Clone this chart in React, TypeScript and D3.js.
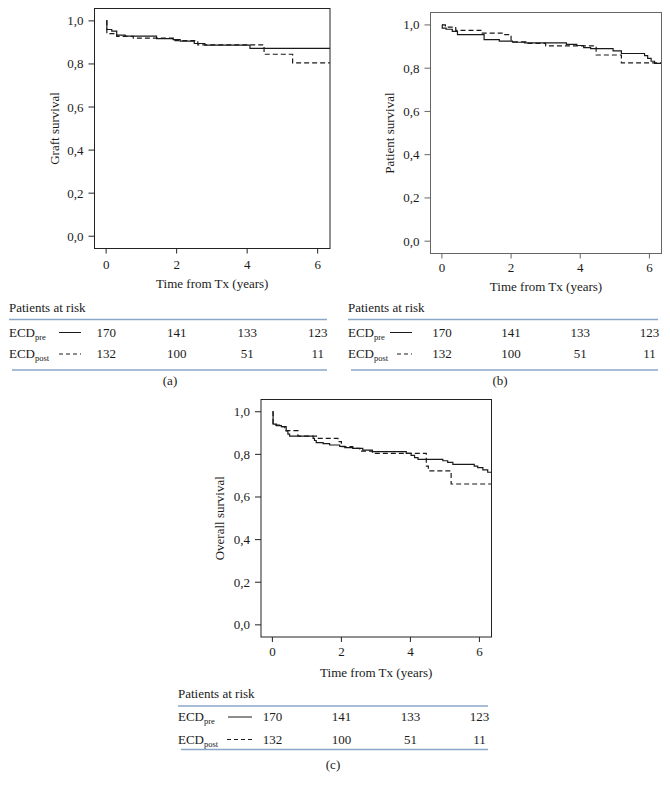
import React from "react";
import * as d3 from "d3";

// ---------- data ----------
const xTicks = [0, 2, 4, 6];
const yTicks = [0, 0.2, 0.4, 0.6, 0.8, 1.0];
const yTickLabels = ["0,0", "0,2", "0,4", "0,6", "0,8", "1,0"];

const riskTimes = [0, 2, 4, 6];
const riskPre = [170, 141, 133, 123];
const riskPost = [132, 100, 51, 11];

// (a) Graft survival
const graftPreT = [0, 0.02, 0.16, 0.3, 0.54, 1.43, 1.9, 2.1, 2.5, 2.8, 4.08];
const graftPreS = [1.0, 0.96, 0.952, 0.934, 0.929, 0.918, 0.913, 0.906, 0.895, 0.887, 0.872];
const graftPostT = [0, 0.02, 0.3, 0.77, 1.95, 2.6, 4.48, 5.29];
const graftPostS = [1.0, 0.941, 0.928, 0.92, 0.908, 0.889, 0.845, 0.805];

// (b) Patient survival
const patPreT = [0, 0.01, 0.12, 0.3, 0.45, 1.22, 1.66, 2.04, 2.39, 3.6, 3.9, 4.1, 4.3, 4.95, 5.19, 5.86, 5.95, 6.05, 6.15];
const patPreS = [1.0, 0.985, 0.98, 0.97, 0.955, 0.932, 0.925, 0.92, 0.917, 0.91, 0.905, 0.895, 0.89, 0.88, 0.868, 0.858, 0.845, 0.832, 0.822];
const patPostT = [0, 0.1, 0.4, 1.13, 1.76, 2.0, 2.43, 3.0, 4.46, 5.19];
const patPostS = [1.0, 0.99, 0.975, 0.962, 0.955, 0.922, 0.915, 0.903, 0.861, 0.825];

// (c) Overall survival
const ovPreT = [0, 0.02, 0.12, 0.26, 0.4, 0.45, 0.5, 1.18, 1.22, 1.27, 1.47, 1.66, 1.95, 2.1, 2.33, 2.62, 2.9, 3.88, 4.02, 4.12, 4.22, 4.94, 5.08, 5.23, 5.85, 5.95, 6.1, 6.24];
const ovPreS = [1.0, 0.942, 0.935, 0.93, 0.91, 0.895, 0.886, 0.875, 0.865, 0.855, 0.85, 0.844, 0.838, 0.832, 0.828, 0.82, 0.8125, 0.805, 0.795, 0.785, 0.777, 0.77, 0.762, 0.753, 0.745, 0.738, 0.727, 0.716];
const ovPostT = [0, 0.02, 0.21, 0.36, 0.74, 1.3, 1.9, 2.0, 2.33, 2.53, 2.9, 4.46, 4.52, 5.18];
const ovPostS = [1.0, 0.9375, 0.93, 0.911, 0.886, 0.875, 0.86, 0.836, 0.828, 0.815, 0.805, 0.745, 0.723, 0.661];

// ---------- drawing ----------
const FONT = "'Liberation Serif', 'DejaVu Serif', serif";
const INK = "#1a1a1a";
const BLUE = "#8aa6c8";
const X_DOMAIN: [number, number] = [-0.33, 6.35];
const Y_DOMAIN: [number, number] = [-0.057, 1.0575];

type Layout = {
  id: string;
  l: number; t: number; r: number; b: number;
  frame: string;
  ylabel: string;
  ylabelX: number;
  xTickY: number;
  xTitleY: number;
  tblL: number; tblR: number;
  parY: number; topLineY: number; row1Y: number; row2Y: number; botLineY: number;
  leg1X1: number; leg2X1: number; legX2: number;
  tag: string; tagX: number; tagY: number;
};

function Panel({ L, preT, preS, postT, postS }: { L: Layout; preT: number[]; preS: number[]; postT: number[]; postS: number[] }) {
  const x = d3.scaleLinear().domain(X_DOMAIN).range([L.l, L.r]);
  const y = d3.scaleLinear().domain(Y_DOMAIN).range([L.b, L.t]);
  const line = d3
    .line<[number, number]>()
    .x((d) => x(d[0]))
    .y((d) => y(d[1]))
    .curve(d3.curveStepAfter);
  const pts = (T: number[], S: number[]): [number, number][] => {
    const p: [number, number][] = T.map((t, i) => [t, S[i]]);
    p.push([X_DOMAIN[1], S[S.length - 1]]);
    return p;
  };
  const clipId = "clip-" + L.id;
  const fs = 13;
  const sub = 8.5;
  return (
    <g fontFamily={FONT} fill={INK}>
      <defs>
        <clipPath id={clipId}>
          <rect x={L.l} y={L.t} width={L.r - L.l} height={L.b - L.t} />
        </clipPath>
      </defs>
      <g clipPath={`url(#${clipId})`}>
        <path d={line(pts(preT, preS)) || ""} fill="none" stroke={INK} strokeWidth={1.2} />
        <path d={line(pts(postT, postS)) || ""} fill="none" stroke={INK} strokeWidth={1.2} strokeDasharray="5,3" />
      </g>
      <rect x={L.l} y={L.t} width={L.r - L.l} height={L.b - L.t} fill="none" stroke={L.frame} strokeWidth={1} />
      {yTicks.map((v, i) => (
        <g key={"y" + i}>
          <line x1={L.l - 6} x2={L.l} y1={y(v)} y2={y(v)} stroke={L.frame} />
          <text x={L.l - 11} y={y(v) + 4.5} textAnchor="end" fontSize={fs}>{yTickLabels[i]}</text>
        </g>
      ))}
      {xTicks.map((v) => (
        <g key={"x" + v}>
          <line x1={x(v)} x2={x(v)} y1={L.b} y2={L.b + 5} stroke={L.frame} />
          <text x={x(v)} y={L.xTickY} textAnchor="middle" fontSize={fs}>{v}</text>
        </g>
      ))}
      <text x={(L.l + L.r) / 2} y={L.xTitleY} textAnchor="middle" fontSize={fs}>Time from Tx (years)</text>
      <text
        transform={`translate(${L.ylabelX},${(L.t + L.b) / 2}) rotate(-90)`}
        textAnchor="middle"
        fontSize={fs}
      >
        {L.ylabel}
      </text>
      {/* risk table */}
      <text x={L.tblL} y={L.parY} fontSize={fs}>Patients at risk</text>
      <line x1={L.tblL} x2={L.tblR} y1={L.topLineY} y2={L.topLineY} stroke={BLUE} strokeWidth={1.5} />
      <text x={L.tblL} y={L.row1Y} fontSize={fs}>
        ECD<tspan fontSize={sub} dy={3}>pre</tspan>
      </text>
      <text x={L.tblL} y={L.row2Y} fontSize={fs}>
        ECD<tspan fontSize={sub} dy={3}>post</tspan>
      </text>
      <line x1={L.leg1X1} x2={L.legX2} y1={L.row1Y - 4} y2={L.row1Y - 4} stroke={INK} strokeWidth={1} />
      <line x1={L.leg2X1} x2={L.legX2} y1={L.row2Y - 4} y2={L.row2Y - 4} stroke={INK} strokeWidth={1} strokeDasharray="4,3" />
      {riskTimes.map((t, i) => (
        <g key={"r" + i}>
          <text x={x(t)} y={L.row1Y} textAnchor="middle" fontSize={fs}>{riskPre[i]}</text>
          <text x={x(t)} y={L.row2Y} textAnchor="middle" fontSize={fs}>{riskPost[i]}</text>
        </g>
      ))}
      <line x1={L.tblL + 3} x2={L.tblR} y1={L.botLineY} y2={L.botLineY} stroke={BLUE} strokeWidth={1.5} />
      <text x={L.tagX} y={L.tagY} textAnchor="middle" fontSize={fs}>{L.tag}</text>
    </g>
  );
}

const layoutA: Layout = {
  id: "a", l: 94.5, t: 8.5, r: 330, b: 248.5, frame: "#222",
  ylabel: "Graft survival", ylabelX: 59,
  xTickY: 268.5, xTitleY: 288,
  tblL: 9, tblR: 327,
  parY: 311.5, topLineY: 319.5, row1Y: 336.5, row2Y: 358, botLineY: 370,
  leg1X1: 59, leg2X1: 59, legX2: 81,
  tag: "(a)", tagX: 170, tagY: 385,
};
const layoutB: Layout = {
  id: "b", l: 430.5, t: 12.5, r: 661.5, b: 253.5, frame: "#666",
  ylabel: "Patient survival", ylabelX: 394,
  xTickY: 272, xTitleY: 291,
  tblL: 348, tblR: 658,
  parY: 311.5, topLineY: 319.5, row1Y: 336.5, row2Y: 358, botLineY: 370,
  leg1X1: 390, leg2X1: 397, legX2: 412,
  tag: "(b)", tagX: 500, tagY: 385,
};
const layoutC: Layout = {
  id: "c", l: 261, t: 399.5, r: 491.5, b: 637, frame: "#222",
  ylabel: "Overall survival", ylabelX: 224,
  xTickY: 656, xTitleY: 676.5,
  tblL: 178, tblR: 488,
  parY: 698, topLineY: 706, row1Y: 721, row2Y: 743.5, botLineY: 749.5,
  leg1X1: 228, leg2X1: 227, legX2: 252,
  tag: "(c)", tagX: 333, tagY: 769,
};

export default function App() {
  return (
    <svg
      width={670}
      height={794}
      viewBox="0 0 670 794"
      style={{ position: "absolute", left: 0, top: 0, background: "#fff" }}
    >
      <rect x={0} y={0} width={670} height={794} fill="#fff" />
      <Panel L={layoutA} preT={graftPreT} preS={graftPreS} postT={graftPostT} postS={graftPostS} />
      <Panel L={layoutB} preT={patPreT} preS={patPreS} postT={patPostT} postS={patPostS} />
      <Panel L={layoutC} preT={ovPreT} preS={ovPreS} postT={ovPostT} postS={ovPostS} />
    </svg>
  );
}
